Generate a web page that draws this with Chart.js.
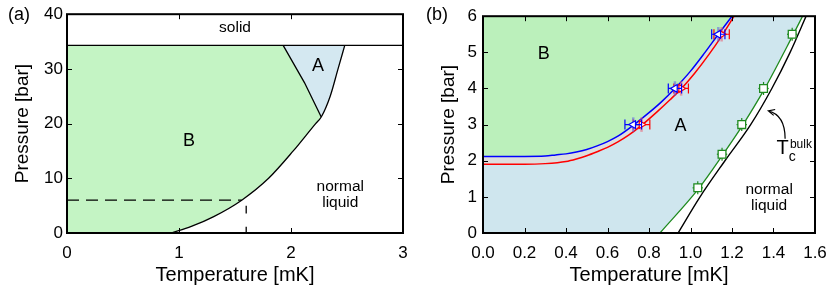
<!DOCTYPE html>
<html>
<head>
<meta charset="utf-8">
<script src="https://cdn.jsdelivr.net/npm/chart.js@4.4.0/dist/chart.umd.min.js"></script>
<style>
html, body { margin: 0; padding: 0; background: #fff; }
#wrap { position: relative; width: 830px; height: 295px; }
.panel { position: absolute; top: 0; width: 415px; height: 295px; }
</style>
</head>
<body>
<div id="wrap">
  <div class="panel" style="left:0"><canvas id="chartA"></canvas></div>
  <div class="panel" style="left:415px"><canvas id="chartB"></canvas></div>
</div>
<script>
// ---------- panel (a): bulk phase diagram ----------
const tcT = [0.93, 1.11, 1.31, 1.56, 1.80, 2.02, 2.22, 2.27, 2.35, 2.42, 2.48];
const tcP = [0, 1.2, 3.0, 6.0, 10, 15, 20, 21.2, 25, 30, 34.3];
const abT = [2.27, 2.12, 1.93];
const abP = [21.2, 27.5, 34.3];
const meltT = [0, 3];
const meltP = [34.3, 34.3];
const dashHT = [0, 1.56];
const dashHP = [6, 6];
const dashVT = [1.6, 1.6];
const dashVP = [4.96, 0];

// ---------- panel (b): confined phase diagram ----------
const bulkT = [0.94, 1.046, 1.166, 1.29, 1.392, 1.48, 1.557];
const bulkP = [0, 1, 2, 3, 4, 5, 6];
const fitT = [0.853, 1.038, 1.155, 1.25, 1.356, 1.493, 1.54];
const fitP = [0, 1.22, 2.16, 2.97, 3.98, 5.47, 6.0];
const tcSlabT = [1.035, 1.152, 1.247, 1.352, 1.49];
const tcSlabP = [1.25, 2.18, 3.0, 4.0, 5.5];
const tcSlabErrT = [0.025, 0.025, 0.025, 0.025, 0.025];
const tcSlabErrP = [0.18, 0.18, 0.18, 0.18, 0.18];

const upT = [0, 0.2, 0.3, 0.35, 0.4, 0.45, 0.5, 0.55, 0.6, 0.65, 0.724, 0.8, 0.86, 0.925, 1.0, 1.07, 1.134, 1.2];
const upP = [2.12, 2.12, 2.13, 2.16, 2.19, 2.24, 2.31, 2.41, 2.53, 2.68, 2.98, 3.33, 3.63, 4.0, 4.48, 5.0, 5.5, 6.0];
const downT = [0, 0.2, 0.3, 0.4, 0.45, 0.5, 0.55, 0.6, 0.65, 0.7, 0.764, 0.84, 0.9, 0.957, 1.02, 1.09, 1.15, 1.21];
const downP = [1.9, 1.9, 1.92, 1.98, 2.05, 2.14, 2.25, 2.37, 2.52, 2.7, 2.98, 3.36, 3.68, 4.0, 4.42, 4.95, 5.45, 6.0];

const warmT = [0.724, 0.925, 1.134];
const warmP = [3.0, 4.0, 5.5];
const warmErrT = [0.04, 0.032, 0.032];
const warmErrP = [0.2, 0.2, 0.2];
const coolT = [0.764, 0.955, 1.15];
const coolP = [3.0, 4.0, 5.5];
const coolErrT = [0.04, 0.035, 0.037];
const coolErrP = [0.2, 0.2, 0.2];

const FONT = "'Liberation Sans', Arial, Helvetica, sans-serif";
const GREEN_B = '#c4f4c4';
const BLUE_A = '#d4e8f1';
const GREEN_B2 = '#bbf0bb';
const BLUE_A2 = '#cfe6ee';

function pts(xs, ys) { return xs.map((x, i) => ({x: x, y: ys[i]})); }

// polygons for panel (a)
const pcp = tcP.indexOf(abP[0]);
const polyB = [{x: 0, y: 0}].concat(pts(tcT, tcP).slice(0, pcp + 1), pts(abT, abP).slice(1), [{x: 0, y: meltP[0]}]);
const polyA = pts(tcT, tcP).slice(pcp).concat(pts(abT, abP).slice(1).reverse());

// polygons for panel (b)
const polyB2 = pts(upT, upP).concat([{x: 0, y: 6}]);
const polyGap = pts(upT, upP).concat(pts(downT, downP).reverse());
const polyA2 = pts(downT, downP).concat(pts(fitT, fitP).reverse(), [{x: 0, y: 0}]);

function shape(data, color) {
  return {data: data, fill: 'shape', backgroundColor: color, borderWidth: 0, pointRadius: 0, tension: 0, order: 10};
}
function curve(data, color, extra) {
  return Object.assign({data: data, borderColor: color, borderWidth: 1.4, pointRadius: 0, fill: false,
    cubicInterpolationMode: 'monotone', order: 5}, extra || {});
}

const decor = {
  id: 'decor',
  beforeDatasetDraw(chart, args) {
    const ds = chart.data.datasets[args.index];
    if (!ds.errT) return;
    const ctx = chart.ctx, xs = chart.scales.x, ys = chart.scales.y;
    ctx.save();
    ds.data.forEach((p, i) => {
      const px = xs.getPixelForValue(p.x), py = ys.getPixelForValue(p.y);
      const xl = xs.getPixelForValue(p.x - ds.errT[i]), xr = xs.getPixelForValue(p.x + ds.errT[i]);
      const yt = ys.getPixelForValue(p.y + ds.errP[i]), yb = ys.getPixelForValue(p.y - ds.errP[i]);
      ctx.strokeStyle = ds.errVColor;
      ctx.lineWidth = ds.errVWidth;
      ctx.beginPath(); ctx.moveTo(px, yt); ctx.lineTo(px, yb); ctx.stroke();
      ctx.strokeStyle = ds.borderColor;
      ctx.lineWidth = 1.2;
      ctx.beginPath();
      ctx.moveTo(xl, py); ctx.lineTo(xr, py);
      if (ds.cap) {
        ctx.moveTo(xl, py - ds.cap); ctx.lineTo(xl, py + ds.cap);
        ctx.moveTo(xr, py - ds.cap); ctx.lineTo(xr, py + ds.cap);
      }
      ctx.stroke();
    });
    ctx.restore();
  },
  afterDatasetsDraw(chart, args, opts) {
    const ctx = chart.ctx, xs = chart.scales.x, ys = chart.scales.y, ca = chart.chartArea;
    ctx.save();
    ctx.strokeStyle = '#000';
    ctx.lineWidth = 1;
    ctx.beginPath();
    xs.ticks.forEach(t => {
      const x = Math.round(xs.getPixelForValue(t.value)) + 0.5;
      ctx.moveTo(x, ca.bottom); ctx.lineTo(x, ca.bottom - 5);
      ctx.moveTo(x, ca.top); ctx.lineTo(x, ca.top + 5);
    });
    ys.ticks.forEach(t => {
      const y = Math.round(ys.getPixelForValue(t.value)) + 0.5;
      ctx.moveTo(ca.left, y); ctx.lineTo(ca.left + 5, y);
      ctx.moveTo(ca.right, y); ctx.lineTo(ca.right - 5, y);
    });
    ctx.stroke();
    ctx.lineWidth = 2;
    ctx.strokeRect(ca.left, ca.top, ca.right - ca.left, ca.bottom - ca.top);

    ctx.fillStyle = '#000';
    ctx.textAlign = 'center';
    ctx.textBaseline = 'middle';
    (opts.texts || []).forEach(s => {
      ctx.font = s.size + 'px ' + FONT;
      ctx.fillText(s.t, xs.getPixelForValue(s.x), ys.getPixelForValue(s.y));
    });
    if (opts.tag) {
      ctx.font = opts.tag.size + 'px ' + FONT;
      ctx.fillText(opts.tag.t, opts.tag.px, opts.tag.py);
    }
    if (opts.arrow) {
      const a = opts.arrow;
      const P = (q) => [xs.getPixelForValue(q[0]), ys.getPixelForValue(q[1])];
      const s = P(a.from), c1 = P(a.c1), c2 = P(a.c2), e = P(a.to);
      ctx.lineWidth = 1.2;
      ctx.beginPath();
      ctx.moveTo(s[0], s[1]);
      ctx.bezierCurveTo(c1[0], c1[1], c2[0], c2[1], e[0], e[1]);
      const ang = Math.atan2(e[1] - c2[1], e[0] - c2[0]);
      const L = 7;
      ctx.moveTo(e[0] - L * Math.cos(ang - 0.45), e[1] - L * Math.sin(ang - 0.45));
      ctx.lineTo(e[0], e[1]);
      ctx.lineTo(e[0] - L * Math.cos(ang + 0.45), e[1] - L * Math.sin(ang + 0.45));
      ctx.stroke();
    }
    ctx.restore();
  }
};

function axes(xmax, xstep, ymax, ystep, yWidth, yTitlePad, yTickPad, xfmt) {
  const tickFont = {family: FONT, size: 17};
  return {
    x: {type: 'linear', min: 0, max: xmax,
      ticks: {stepSize: xstep, color: '#000', font: tickFont, padding: 3, maxRotation: 0,
        callback: xfmt},
      grid: {display: false, drawTicks: true, tickLength: 7}, border: {display: false},
      title: {display: true, text: 'Temperature [mK]', color: '#000', font: {family: FONT, size: 20},
        padding: {top: 0, bottom: 8}},
      afterFit: s => { s.height = 62; }},
    y: {type: 'linear', min: 0, max: ymax,
      ticks: {stepSize: ystep, color: '#000', font: tickFont, padding: yTickPad},
      grid: {display: false, drawTicks: false}, border: {display: false},
      title: {display: true, text: 'Pressure [bar]', color: '#000', font: {family: FONT, size: 19},
        padding: {top: yTitlePad, bottom: 0}},
      afterFit: s => { s.width = yWidth; }}
  };
}

new Chart(document.getElementById('chartA'), {
  type: 'line',
  data: {datasets: [
    shape(polyB, GREEN_B),
    shape(polyA, BLUE_A),
    curve(pts(tcT, tcP), '#000', {borderWidth: 1.3}),
    curve(pts(abT, abP), '#000', {borderWidth: 1.3, cubicInterpolationMode: 'default', tension: 0}),
    curve(pts(meltT, meltP), '#000', {borderWidth: 1.3, cubicInterpolationMode: 'default'}),
    curve(pts(dashHT, dashHP), '#000', {borderWidth: 1.3, borderDash: [12, 7], cubicInterpolationMode: 'default'}),
    curve(pts(dashVT, dashVP), '#000', {borderWidth: 1.3, borderDash: [7.6, 13.4], cubicInterpolationMode: 'default'})
  ]},
  options: {
    responsive: true, maintainAspectRatio: false, animation: false,
    layout: {padding: {top: 11, right: 12, left: 0, bottom: 0}},
    scales: axes(3, 1, 40, 10, 67, 11, 4, v => String(v)),
    plugins: {
      legend: {display: false}, tooltip: {enabled: false},
      decor: {
        tag: {t: '(a)', px: 19, py: 15, size: 18},
        texts: [
          {t: 'solid', x: 1.5, y: 37.6, size: 15.5},
          {t: 'A', x: 2.24, y: 30.6, size: 18},
          {t: 'B', x: 1.09, y: 16.8, size: 18},
          {t: 'normal', x: 2.44, y: 8.55, size: 15.5},
          {t: 'liquid', x: 2.44, y: 5.5, size: 15.5}
        ]
      }
    }
  },
  plugins: [decor]
});

new Chart(document.getElementById('chartB'), {
  type: 'line',
  data: {datasets: [
    shape(polyB2, GREEN_B2),
    shape(polyGap, '#dedede'),
    shape(polyA2, BLUE_A2),
    curve(pts(bulkT, bulkP), '#000', {borderWidth: 1.4}),
    curve(pts(fitT, fitP), '#1f8a1f', {borderWidth: 1.3}),
    curve(pts(upT, upP), '#0000ff', {borderWidth: 1.5}),
    curve(pts(downT, downP), '#ff0000', {borderWidth: 1.5}),
    {data: pts(tcSlabT, tcSlabP), showLine: false, pointStyle: 'rect', pointRadius: 5.5,
      pointBackgroundColor: '#fff', pointBorderColor: '#1f8a1f', pointBorderWidth: 1.3,
      borderColor: '#1f8a1f', errT: tcSlabErrT, errP: tcSlabErrP, errVColor: '#1f8a1f', errVWidth: 1.2, cap: 0, order: 1},
    {data: pts(coolT, coolP), showLine: false, pointStyle: 'triangle', pointRotation: 90, pointRadius: 4.5,
      pointBackgroundColor: '#fff', pointBorderColor: '#ff0000', pointBorderWidth: 1.2,
      borderColor: '#ff0000', errT: coolErrT, errP: coolErrP, errVColor: 'rgba(235,90,110,0.55)', errVWidth: 2.5, cap: 5, order: 2},
    {data: pts(warmT, warmP), showLine: false, pointStyle: 'triangle', pointRotation: -90, pointRadius: 4.5,
      pointBackgroundColor: '#fff', pointBorderColor: '#0000ff', pointBorderWidth: 1.2,
      borderColor: '#0000ff', errT: warmErrT, errP: warmErrP, errVColor: 'rgba(90,90,230,0.55)', errVWidth: 2.5, cap: 5, order: 1}
  ]},
  options: {
    responsive: true, maintainAspectRatio: false, animation: false,
    layout: {padding: {top: 11, right: 15, left: 0, bottom: 0}},
    scales: axes(1.6, 0.2, 6, 1, 68, 22, 6, v => v.toFixed(1)),
    plugins: {
      legend: {display: false}, tooltip: {enabled: false},
      decor: {
        tag: {t: '(b)', px: 22, py: 15, size: 18},
        texts: [
          {t: 'B', x: 0.293, y: 4.96, size: 18},
          {t: 'A', x: 0.952, y: 2.95, size: 18},
          {t: 'normal', x: 1.379, y: 1.21, size: 15.5},
          {t: 'liquid', x: 1.379, y: 0.76, size: 15.5},
          {t: 'T', x: 1.444, y: 2.33, size: 20},
          {t: 'c', x: 1.49, y: 2.11, size: 14},
          {t: 'bulk', x: 1.532, y: 2.45, size: 12}
        ],
        arrow: {from: [1.456, 2.61], c1: [1.456, 3.05], c2: [1.43, 3.30], to: [1.375, 3.38]}
      }
    }
  },
  plugins: [decor]
});
</script>
</body>
</html>
